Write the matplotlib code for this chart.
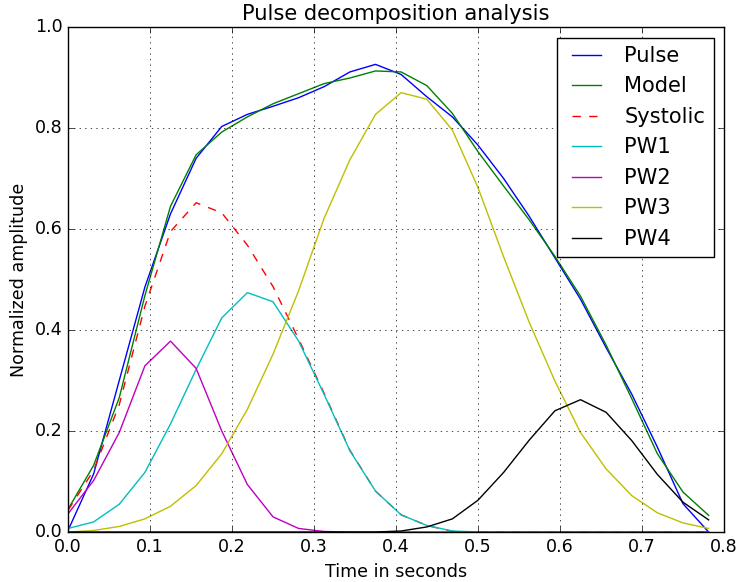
import matplotlib
matplotlib.use("Agg")
import matplotlib.pyplot as plt
import numpy as np

plt.style.use('classic')
plt.rcParams['font.size'] = 12.6

time = [i / 32 for i in range(26)]

pulse = [0.003, 0.115, 0.30, 0.485, 0.63, 0.74, 0.803, 0.827, 0.843, 0.86, 0.882, 0.911,
         0.926, 0.906, 0.862, 0.822, 0.766, 0.70, 0.625, 0.543, 0.461, 0.365, 0.273,
         0.168, 0.056, 0.0]
model = [0.045, 0.132, 0.266, 0.468, 0.645, 0.747, 0.792, 0.822, 0.848, 0.868, 0.888, 0.899,
         0.913, 0.911, 0.884, 0.829, 0.753, 0.685, 0.618, 0.546, 0.467, 0.37, 0.264,
         0.155, 0.079, 0.033]
systolic = [0.043, 0.122, 0.252, 0.447, 0.595, 0.652, 0.632, 0.568, 0.486, 0.382, 0.274,
            0.162, 0.081, 0.034, 0.013, 0.001, 0.0, 0.0, 0.0, 0.0, 0.0, 0.0, 0.0, 0.0, 0.0, 0.0]
pw1 = [0.007, 0.02, 0.055, 0.118, 0.214, 0.322, 0.424, 0.474, 0.456, 0.378, 0.272,
       0.161, 0.081, 0.034, 0.013, 0.002, 0.0, 0.0, 0.0, 0.0, 0.0, 0.0, 0.0, 0.0, 0.0, 0.0]
pw2 = [0.036, 0.102, 0.197, 0.329, 0.378, 0.324, 0.2, 0.094, 0.03, 0.007, 0.001,
       0.0, 0.0, 0.0, 0.0, 0.0, 0.0, 0.0, 0.0, 0.0, 0.0, 0.0, 0.0, 0.0, 0.0, 0.0]
pw3 = [0.0, 0.003, 0.011, 0.026, 0.051, 0.092, 0.155, 0.243, 0.352, 0.478, 0.622, 0.737,
       0.827, 0.87, 0.857, 0.796, 0.682, 0.545, 0.415, 0.299, 0.197, 0.125, 0.072,
       0.038, 0.018, 0.007]
pw4 = [0.0, 0.0, 0.0, 0.0, 0.0, 0.0, 0.0, 0.0, 0.0, 0.0, 0.0, 0.0,
       0.0, 0.002, 0.01, 0.026, 0.063, 0.118, 0.182, 0.24, 0.262, 0.237, 0.181,
       0.114, 0.059, 0.024]

fig = plt.figure(figsize=(7.36, 5.82), dpi=100)
ax = fig.add_axes([0.0924, 0.0859, 0.8913, 0.8677])

ax.plot(time, pulse, 'b-', label='Pulse')
ax.plot(time, model, 'g-', label='Model')
ax.plot(time, systolic, 'r--', label='Systolic')
ax.plot(time, pw1, 'c-', label='PW1')
ax.plot(time, pw2, 'm-', label='PW2')
ax.plot(time, pw3, 'y-', label='PW3')
ax.plot(time, pw4, 'k-', label='PW4')

ax.set_xlim(0, 0.8)
ax.set_ylim(0, 1.0)
ax.set_xticks(np.arange(0, 0.81, 0.1))
ax.set_yticks(np.arange(0, 1.01, 0.2))
ax.grid(True)
ax.set_title('Pulse decomposition analysis')
ax.set_xlabel('Time in seconds')
ax.set_ylabel('Normalized amplitude')
ax.legend(loc='upper right')

fig.savefig('out.png', dpi=100)
